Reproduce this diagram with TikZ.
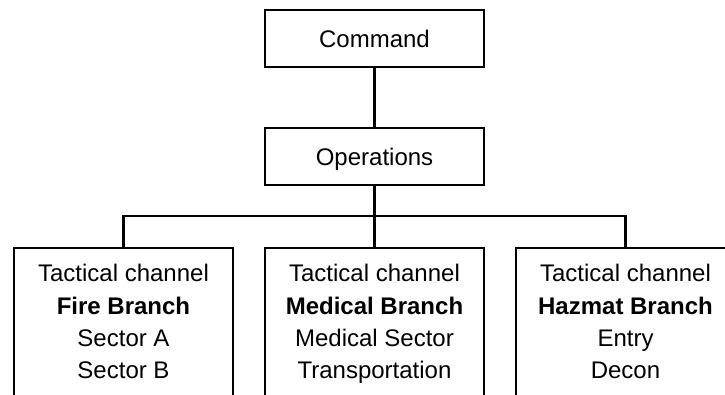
\documentclass[tikz,border=0pt]{standalone}
\usepackage{fontspec}
\setmainfont{Liberation Sans}
\begin{document}
\begin{tikzpicture}[x=1pt,y=-1pt,
  every node/.style={font=\fontsize{24}{32.3}\selectfont},
  topbox/.style={draw, line width=2.2pt, minimum width=219pt, minimum height=57pt, inner sep=0pt, text height=17pt, text depth=0pt},
  branchbox/.style={draw, line width=2.2pt, minimum width=219pt, minimum height=220pt, anchor=north, inner sep=0pt},
  branchtext/.style={anchor=north, inner sep=0pt, align=center},
  conn/.style={line width=2.2pt}]
\clip (0,0) rectangle (725,394);
\node[topbox] (cmd) at (374.5,38.5) {Command};
\node[topbox] (ops) at (374.5,156.5) {Operations};
\node[branchbox] (fire) at (123.5,247) {};
\node[branchbox] (med) at (374.5,247) {};
\node[branchbox] (haz) at (625.5,247) {};
\node[branchtext] (firet) at ([yshift=-17.2pt]fire.north) {Tactical channel\\\textbf{Fire Branch}\\Sector A\\Sector B};
\node[branchtext] (medt) at ([yshift=-17.2pt]med.north) {Tactical channel\\\textbf{Medical Branch}\\Medical Sector\\Transportation};
\node[branchtext] (hazt) at ([yshift=-17.2pt]haz.north) {Tactical channel\\\textbf{Hazmat Branch}\\Entry\\Decon};
\coordinate (bus) at (374.5,216);
\draw[conn] (cmd) -- (ops);
\draw[conn] (ops) -- (med);
\draw[conn] (fire.north) |- (bus) -| (haz.north);
\end{tikzpicture}
\end{document}
